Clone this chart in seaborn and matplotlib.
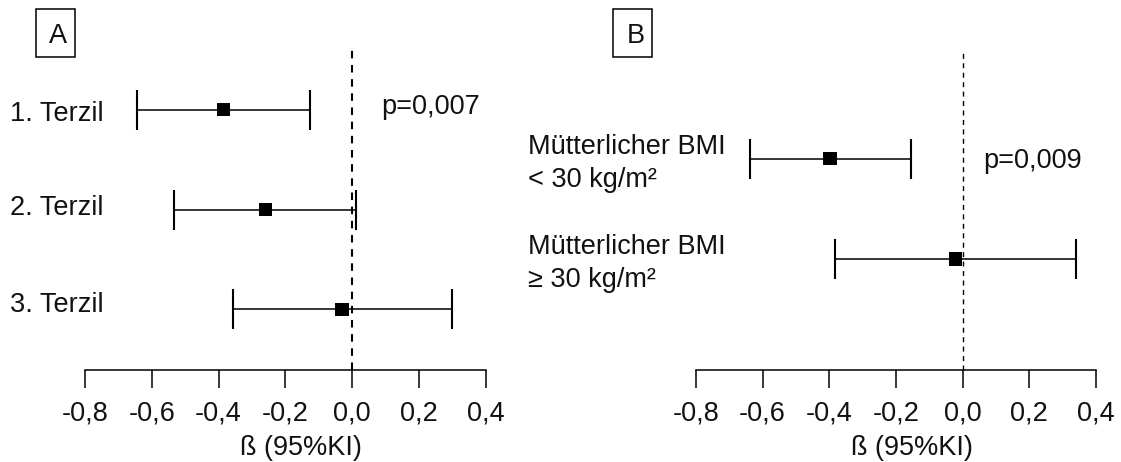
import numpy as np
import pandas as pd
import matplotlib
matplotlib.use("Agg")
import matplotlib.pyplot as plt
from matplotlib.patches import Rectangle
import seaborn as sns

# Panel A: exposure tertiles
terzil_labels = ["1. Terzil", "2. Terzil", "3. Terzil"]
terzil_beta = [-0.385, -0.26, -0.03]
terzil_lo = [-0.643, -0.534, -0.357]
terzil_hi = [-0.127, 0.013, 0.298]
terzil_p = "p=0,007"

# Panel B: stratified by maternal BMI
bmi_labels = ["Mütterlicher BMI\n< 30 kg/m²", "Mütterlicher BMI\n≥ 30 kg/m²"]
bmi_beta = [-0.398, -0.021]
bmi_lo = [-0.638, -0.384]
bmi_hi = [-0.156, 0.340]
bmi_p = "p=0,009"

x_ticks = [-0.8, -0.6, -0.4, -0.2, 0.0, 0.2, 0.4]
x_ticklabels = ["-0,8", "-0,6", "-0,4", "-0,2", "0,0", "0,2", "0,4"]
x_label = "ß (95%KI)"
panel_letters = ["A", "B"]

sns.set_theme(style="white")
FONT = ["Liberation Sans", "DejaVu Sans"]
plt.rcParams["font.family"] = FONT
FS = 19.5
TXT = "#111111"

W, H = 1121, 462
fig = plt.figure(figsize=(W / 100, H / 100), dpi=100)


def fx(px):
    return px / W


def fy(py):
    return 1 - py / H


def forest(ax, labels, beta, lo, hi, ptext, label_x, label_shift, label_va,
           ptext_x, ptext_dy, ylim, zero_lw):
    n = len(labels)
    df = pd.DataFrame({
        "label": labels,
        "beta": beta,
        "lo": lo,
        "hi": hi,
        "row": np.arange(n)[::-1] + 1.0,
    })
    ax.set_xlim(-0.8, 0.4)
    ax.set_ylim(*ylim)
    ax.axvline(0, color="black", lw=zero_lw, ls=(0, (3.6, 3.2)), zorder=1)
    ax.errorbar(df["beta"], df["row"],
                xerr=[df["beta"] - df["lo"], df["hi"] - df["beta"]],
                fmt="none", ecolor="black", elinewidth=1.1,
                capsize=14.4, capthick=1.5, zorder=2, clip_on=False)
    sns.scatterplot(data=df, x="beta", y="row", marker="s", s=92,
                    color="black", edgecolor="none", linewidth=0,
                    ax=ax, zorder=3, clip_on=False, legend=False)
    for (_, r), dy in zip(df.iterrows(), label_shift):
        ax.annotate(r["label"], xy=(fx(label_x), r["row"] + dy),
                    xycoords=("figure fraction", "data"),
                    ha="left", va=label_va, fontsize=FS, linespacing=1.33,
                    color=TXT)
    ax.annotate(ptext, xy=(fx(ptext_x), df["row"].iloc[0] + ptext_dy),
                xycoords=("figure fraction", "data"),
                ha="left", va="center", fontsize=FS, color=TXT)
    for s in ["top", "right", "left"]:
        ax.spines[s].set_visible(False)
    ax.spines["bottom"].set_color("black")
    ax.spines["bottom"].set_linewidth(1.1)
    ax.spines["bottom"].set_bounds(-0.8, 0.4)
    ax.set_yticks([])
    ax.set_xticks(x_ticks)
    ax.set_xticklabels(x_ticklabels)
    ax.tick_params(axis="x", direction="out", length=13, width=1.1,
                   color="black", pad=9, labelsize=FS, labelcolor=TXT,
                   bottom=True)
    ax.set_xlabel(x_label, fontsize=FS, color=TXT, labelpad=6, x=0.54)
    ax.set_ylabel("")
    ax.grid(False)
    ax.set_facecolor("none")


top_px, bot_px = 50, 370
axA = fig.add_axes([fx(85), fy(bot_px), fx(485.7) - fx(85), fy(top_px) - fy(bot_px)])
axB = fig.add_axes([fx(696), fy(bot_px), fx(1096) - fx(696), fy(top_px) - fy(bot_px)])

forest(axA, terzil_labels, terzil_beta, terzil_lo, terzil_hi, terzil_p,
       label_x=10, label_shift=[-0.117, -0.06, -0.027], label_va="baseline",
       ptext_x=381, ptext_dy=0.033, ylim=(0.39, 3.6), zero_lw=1.5)
forest(axB, bmi_labels, bmi_beta, bmi_lo, bmi_hi, bmi_p,
       label_x=528, label_shift=[-0.047, -0.047], label_va="center",
       ptext_x=983, ptext_dy=-0.027, ylim=(-0.107, 3.083), zero_lw=1.0)

# Boxed panel letters
for letter, (x0, x1), tx in zip(panel_letters, [(35.7, 75.0), (613.3, 652.3)], [58.0, 635.5]):
    y0, y1 = 9.3, 56.7
    fig.patches.append(Rectangle((fx(x0), fy(y1)), fx(x1) - fx(x0), fy(y0) - fy(y1),
                                 transform=fig.transFigure, fill=False,
                                 edgecolor="black", linewidth=1.1))
    fig.text(fx(tx), fy(36.0), letter, ha="center", va="center",
             fontsize=FS, color=TXT)

fig.savefig("out.png", dpi=100, facecolor="white")
